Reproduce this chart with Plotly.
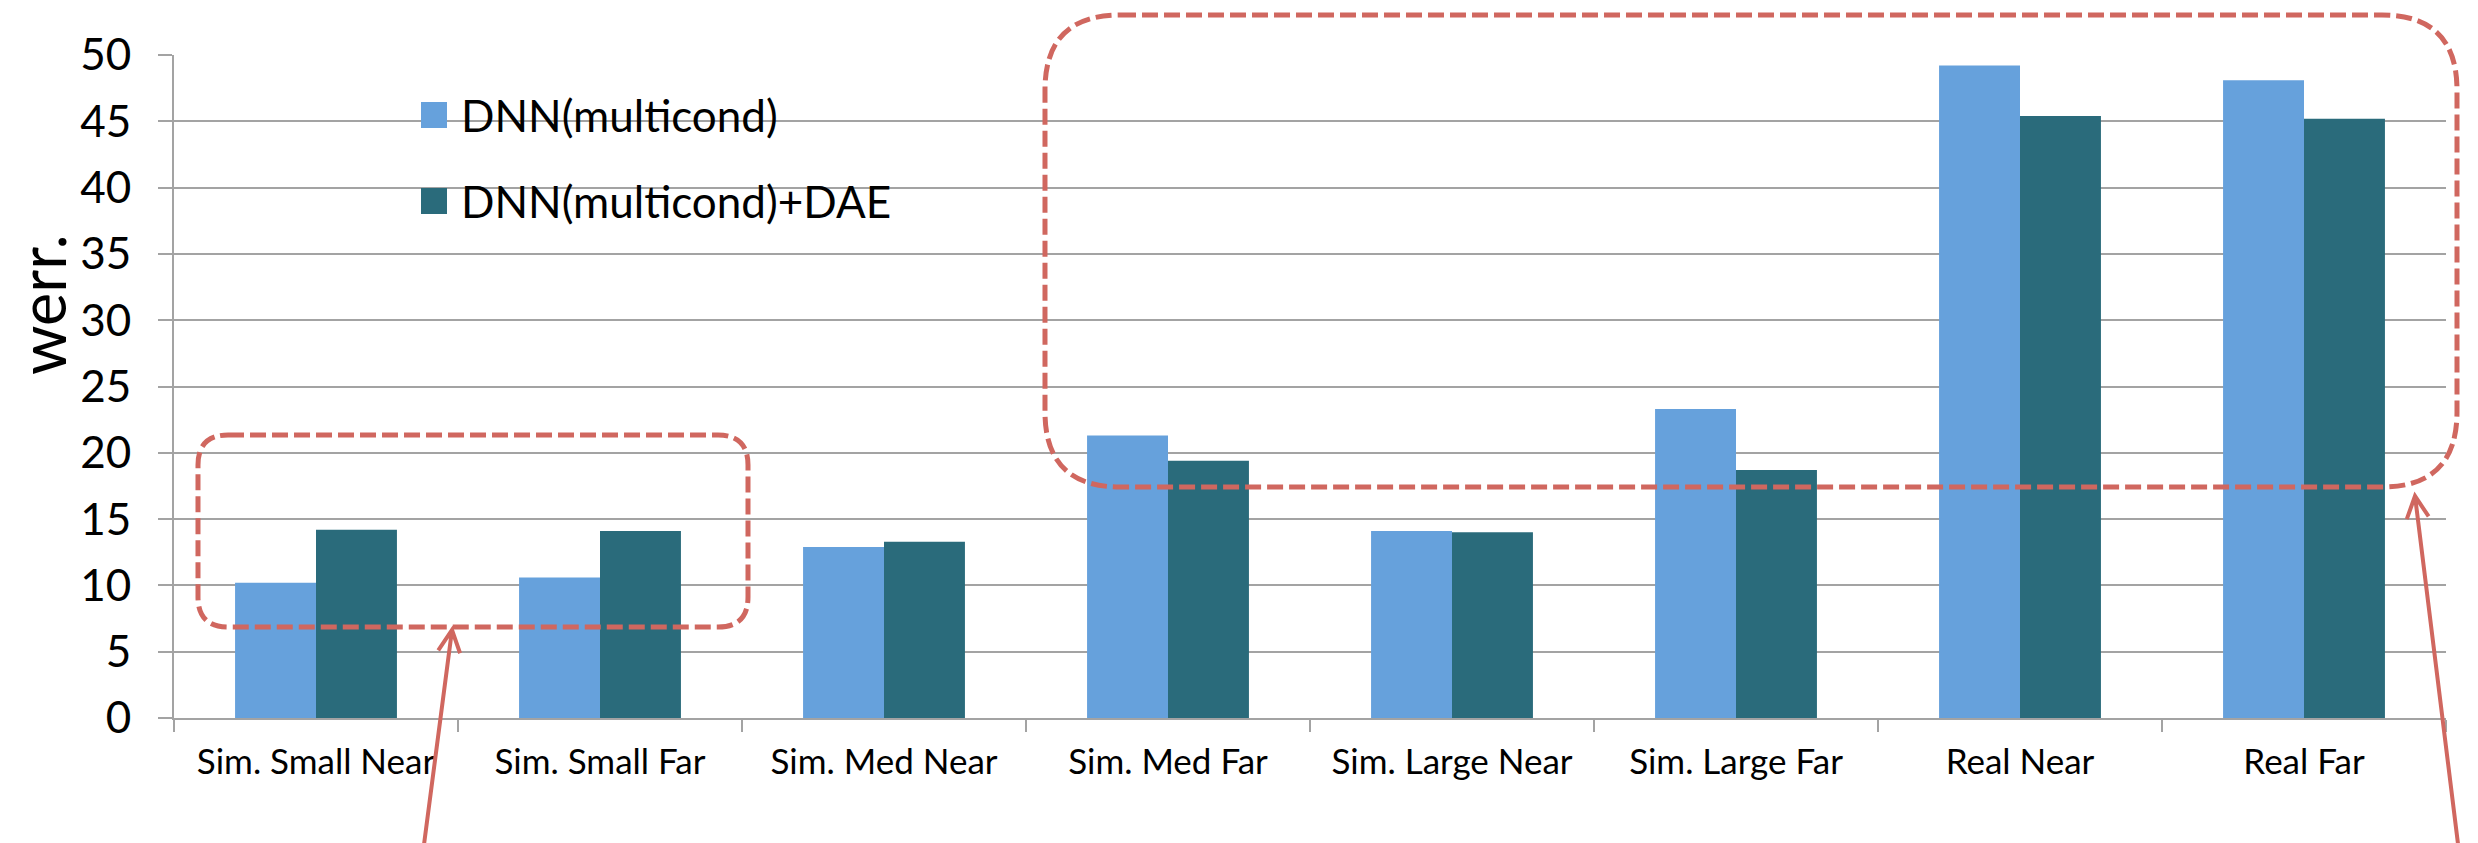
import plotly.graph_objects as go

# Word error rate per condition
categories = ["Sim. Small Near", "Sim. Small Far", "Sim. Med Near", "Sim. Med Far",
              "Sim. Large Near", "Sim. Large Far", "Real Near", "Real Far"]
series_names = ["DNN(multicond)", "DNN(multicond)+DAE"]
dnn_multicond = [10.2, 10.6, 12.9, 21.3, 14.1, 23.3, 49.2, 48.1]
dnn_multicond_dae = [14.2, 14.1, 13.3, 19.4, 14.0, 18.7, 45.4, 45.2]
y_ticks = [0, 5, 10, 15, 20, 25, 30, 35, 40, 45, 50]
y_title = "werr."

COLORS = ["#66A1DC", "#2A6B7B"]
RED = "#D0675F"
GRID = "#A3A3A3"
FONT = "Lato, Open Sans, sans-serif"

W, H = 2478, 843
M_L, M_R, M_T, M_B = 174, 32, 55, 125
PW, PH = W - M_L - M_R, H - M_T - M_B


def px(x):
    return (x - M_L) / PW


def py(y):
    return (H - M_B - y) / PH


def rounded_rect(x0, y0, x1, y1, r):
    """Rounded rectangle path in paper coords, from page pixel bounds."""
    pts = [
        ("M", [(x0 + r, y0)]),
        ("L", [(x1 - r, y0)]),
        ("Q", [(x1, y0), (x1, y0 + r)]),
        ("L", [(x1, y1 - r)]),
        ("Q", [(x1, y1), (x1 - r, y1)]),
        ("L", [(x0 + r, y1)]),
        ("Q", [(x0, y1), (x0, y1 - r)]),
        ("L", [(x0, y0 + r)]),
        ("Q", [(x0, y0), (x0 + r, y0)]),
    ]
    out = []
    for cmd, coords in pts:
        out.append(cmd + " ".join(f"{px(a):.5f},{py(b):.5f}" for a, b in coords))
    return " ".join(out) + " Z"


def arrow_path(tail, tip, head_len=22, half_w=11):
    tx, ty = tail
    hx, hy = tip
    dx, dy = hx - tx, hy - ty
    n = (dx * dx + dy * dy) ** 0.5
    ux, uy = dx / n, dy / n
    bx, by = hx - head_len * ux, hy - head_len * uy
    pxv, pyv = -uy, ux
    a = (bx + half_w * pxv, by + half_w * pyv)
    b = (bx - half_w * pxv, by - half_w * pyv)

    def p(pt):
        return f"{px(pt[0]):.5f},{py(pt[1]):.5f}"

    return f"M{p(tail)} L{p(tip)} M{p(a)} L{p(tip)} L{p(b)}"


fig = go.Figure()
for name, vals, color in zip(series_names, [dnn_multicond, dnn_multicond_dae], COLORS):
    fig.add_trace(go.Bar(x=categories, y=vals, name=name, marker_color=color,
                         marker_line_width=0, showlegend=False))

shapes = [
    # white panel behind the key
    dict(type="rect", xref="paper", yref="paper", layer="between",
         x0=px(277), x1=px(1000), y0=py(250), y1=py(60),
         fillcolor="white", line_width=0),
    dict(type="path", xref="paper", yref="paper", path=rounded_rect(198, 435, 748, 627, 30),
         line=dict(color=RED, width=5, dash="16px,6px")),
    dict(type="path", xref="paper", yref="paper", path=rounded_rect(1045, 15, 2457, 487, 75),
         line=dict(color=RED, width=5, dash="16px,6px")),
    dict(type="path", xref="paper", yref="paper", path=arrow_path((422, 860), (452, 630)),
         line=dict(color=RED, width=4)),
    dict(type="path", xref="paper", yref="paper", path=arrow_path((2460, 860), (2415, 496)),
         line=dict(color=RED, width=4)),
]

annotations = []
key_rows = [115, 201]
for name, color, yc in zip(series_names, COLORS, key_rows):
    shapes.append(dict(type="rect", xref="paper", yref="paper",
                       x0=px(421), x1=px(447), y0=py(yc + 13), y1=py(yc - 13),
                       fillcolor=color, line_width=0))
    annotations.append(dict(xref="paper", yref="paper", x=px(459), y=py(yc),
                            xanchor="left", yanchor="middle", text=name, showarrow=False,
                            font=dict(family=FONT, size=44, color="black")))

# rotated value-axis caption, sitting in the upper half of the axis
annotations.append(dict(xref="paper", yref="paper", x=px(41), y=py(305),
                        xanchor="center", yanchor="middle", text=y_title, textangle=-90,
                        showarrow=False, borderpad=0, borderwidth=0,
                        font=dict(family=FONT, size=63, color="black")))

fig.update_layout(
    width=W, height=H,
    margin=dict(l=M_L, r=M_R, t=M_T, b=M_B),
    paper_bgcolor="white", plot_bgcolor="white",
    barmode="group", bargap=0.43, bargroupgap=0,
    font=dict(family=FONT, color="black"),
    shapes=shapes, annotations=annotations,
    xaxis=dict(
        showgrid=False, showline=True, linecolor=GRID, linewidth=2,
        ticks="outside", tickson="boundaries", ticklen=12, tickwidth=2, tickcolor=GRID,
        tickfont=dict(family=FONT, size=35, color="black"), ticklabelstandoff=12,
    ),
    yaxis=dict(
        range=[0, 50], tickvals=y_ticks, showgrid=True, gridcolor=GRID, gridwidth=2,
        showline=True, linecolor=GRID, linewidth=2, zeroline=False,
        ticks="outside", ticklen=14, tickwidth=2, tickcolor=GRID,
        tickfont=dict(family=FONT, size=44, color="black"), ticklabelstandoff=18,
    ),
)

fig.write_html("out.html")
